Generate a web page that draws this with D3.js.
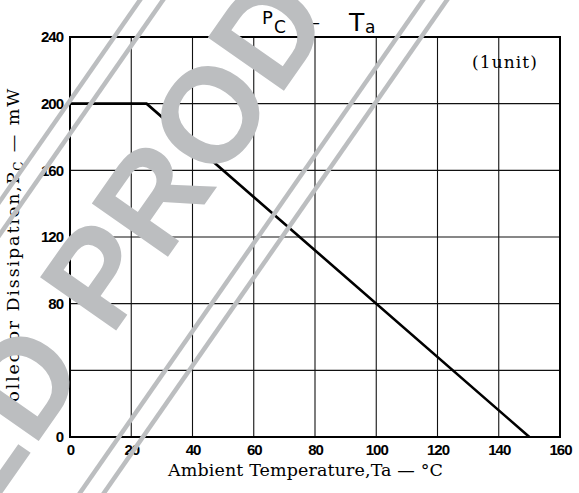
<!DOCTYPE html>
<html>
<head>
<meta charset="utf-8">
<script src="https://cdn.jsdelivr.net/npm/d3@7"></script>
<style>
  html, body { margin: 0; padding: 0; background: #fff; }
  svg { display: block; }
</style>
</head>
<body>
<svg id="chart" width="579" height="493"></svg>
<script>
// ---- data ----
const temperature = [0, 25, 150];          // Ta, °C
const dissipation = [200, 200, 0];         // Pc, mW
const xTickValues = [0, 20, 40, 60, 80, 100, 120, 140, 160];
const yTickValues = [0, 40, 80, 120, 160, 200, 240];
const xDomain = [0, 160];
const yDomain = [0, 240];

const svg = d3.select("#chart");
const margin = {left: 70, right: 19, top: 37, bottom: 56};
const W = 579, H = 493;

const x = d3.scaleLinear().domain(xDomain).range([margin.left, W - margin.right]);
const y = d3.scaleLinear().domain(yDomain).range([H - margin.bottom, margin.top]);

// fit a text element to a target length by letter-spacing
function fit(sel, target) {
  const n = sel.text().length;
  const len = sel.node().getComputedTextLength();
  sel.attr("letter-spacing", (target - len) / n);
}

// grid
const g = svg.append("g");
g.selectAll("line.vgrid").data(xTickValues).join("line")
  .attr("x1", d => x(d)).attr("x2", d => x(d))
  .attr("y1", y(yDomain[0])).attr("y2", y(yDomain[1]))
  .attr("stroke", "#111").attr("stroke-width", 1.1);
g.selectAll("line.hgrid").data(yTickValues).join("line")
  .attr("x1", x(xDomain[0])).attr("x2", x(xDomain[1]))
  .attr("y1", d => y(d)).attr("y2", d => y(d))
  .attr("stroke", "#111").attr("stroke-width", 1.1);

// frame
g.append("rect")
  .attr("x", x(xDomain[0])).attr("y", y(yDomain[1]))
  .attr("width", x(xDomain[1]) - x(xDomain[0]))
  .attr("height", y(yDomain[0]) - y(yDomain[1]))
  .attr("fill", "none").attr("stroke", "#000").attr("stroke-width", 2);

// axes labels via d3 axes (no domain/ticks lines)
const tickFont = "'Liberation Sans', Arial, sans-serif";
const xAxis = svg.append("g")
  .attr("transform", `translate(0,${y(0)})`)
  .call(d3.axisBottom(x).tickValues(xTickValues).tickSize(0).tickPadding(7).tickFormat(d3.format("d")));
xAxis.select(".domain").remove();
xAxis.selectAll("text").attr("font-family", tickFont).attr("font-weight", "bold")
  .attr("font-size", 15).attr("fill", "#000").attr("letter-spacing", -1);

const yAxis = svg.append("g")
  .attr("transform", `translate(${x(0)},0)`)
  .call(d3.axisLeft(y).tickValues(yTickValues).tickSize(0).tickPadding(7).tickFormat(d3.format("d")));
yAxis.select(".domain").remove();
yAxis.selectAll("text").attr("font-family", tickFont).attr("font-weight", "bold")
  .attr("font-size", 15).attr("fill", "#000").attr("letter-spacing", -1);

// curve
const pts = temperature.map((t, i) => [t, dissipation[i]]);
svg.append("path")
  .datum(pts)
  .attr("d", d3.line().x(d => x(d[0])).y(d => y(d[1])))
  .attr("fill", "none").attr("stroke", "#000").attr("stroke-width", 2.6);

// texts
const serif = "'DejaVu Serif', 'Liberation Serif', serif";
const xl = svg.append("text")
  .attr("x", 168).attr("y", 476)
  .attr("font-family", serif).attr("font-size", 17.5).attr("fill", "#000")
  .text("Ambient Temperature,Ta \u2014 \u00b0C");
fit(xl, 275);

const yl = svg.append("text")
  .attr("transform", "translate(19,417) rotate(-90)")
  .attr("font-family", serif).attr("font-size", 17.5).attr("fill", "#000");
yl.append("tspan").text("Collector Dissipation,P");
yl.append("tspan").attr("font-size", 12).attr("dy", 4).text("C");
yl.append("tspan").attr("dy", -4).text(" \u2014 mW");
fit(yl, 330);

const unit = svg.append("text")
  .attr("x", 472).attr("y", 68)
  .attr("font-family", serif).attr("font-size", 17).attr("fill", "#000")
  .text("(1unit)");
fit(unit, 66);

const sans = "'DejaVu Sans', sans-serif";
svg.append("text").attr("x", 262).attr("y", 24)
  .attr("font-family", sans).attr("font-size", 18).text("P");
svg.append("text").attr("x", 274).attr("y", 33)
  .attr("font-family", sans).attr("font-size", 17).text("C");
svg.append("text").attr("x", 302).attr("y", 28)
  .attr("font-family", sans).attr("font-size", 18).text("\u2014");
svg.append("text").attr("x", 349).attr("y", 31)
  .attr("font-family", sans).attr("font-size", 25).text("T");
svg.append("text").attr("x", 365).attr("y", 33)
  .attr("font-family", sans).attr("font-size", 17).text("a");

// watermark
const wm = svg.append("g").attr("fill", "#bcbec0").attr("stroke", "#bcbec0");
const slope = 1.437;
[140, 163, 423, 447].forEach(x0 => {
  wm.append("line")
    .attr("x1", x0 + 10 / slope).attr("y1", -10)
    .attr("x2", x0 - 510 / slope).attr("y2", 510)
    .attr("stroke-width", 4.5);
});
const wmFont = "'Liberation Sans', Arial, sans-serif";
const wmTransform = "translate(111,338) rotate(-55)";
wm.append("text")
  .attr("transform", wmTransform)
  .attr("stroke", "none")
  .attr("font-family", wmFont)
  .attr("font-weight", "bold").attr("font-size", 135)
  .text("PRODUCT");
wm.append("text")
  .attr("transform", wmTransform)
  .attr("stroke", "none")
  .attr("font-family", wmFont)
  .attr("font-weight", "bold").attr("font-size", 135)
  .attr("text-anchor", "end")
  .text("DISCONTINUED\u00a0");
</script>
</body>
</html>
